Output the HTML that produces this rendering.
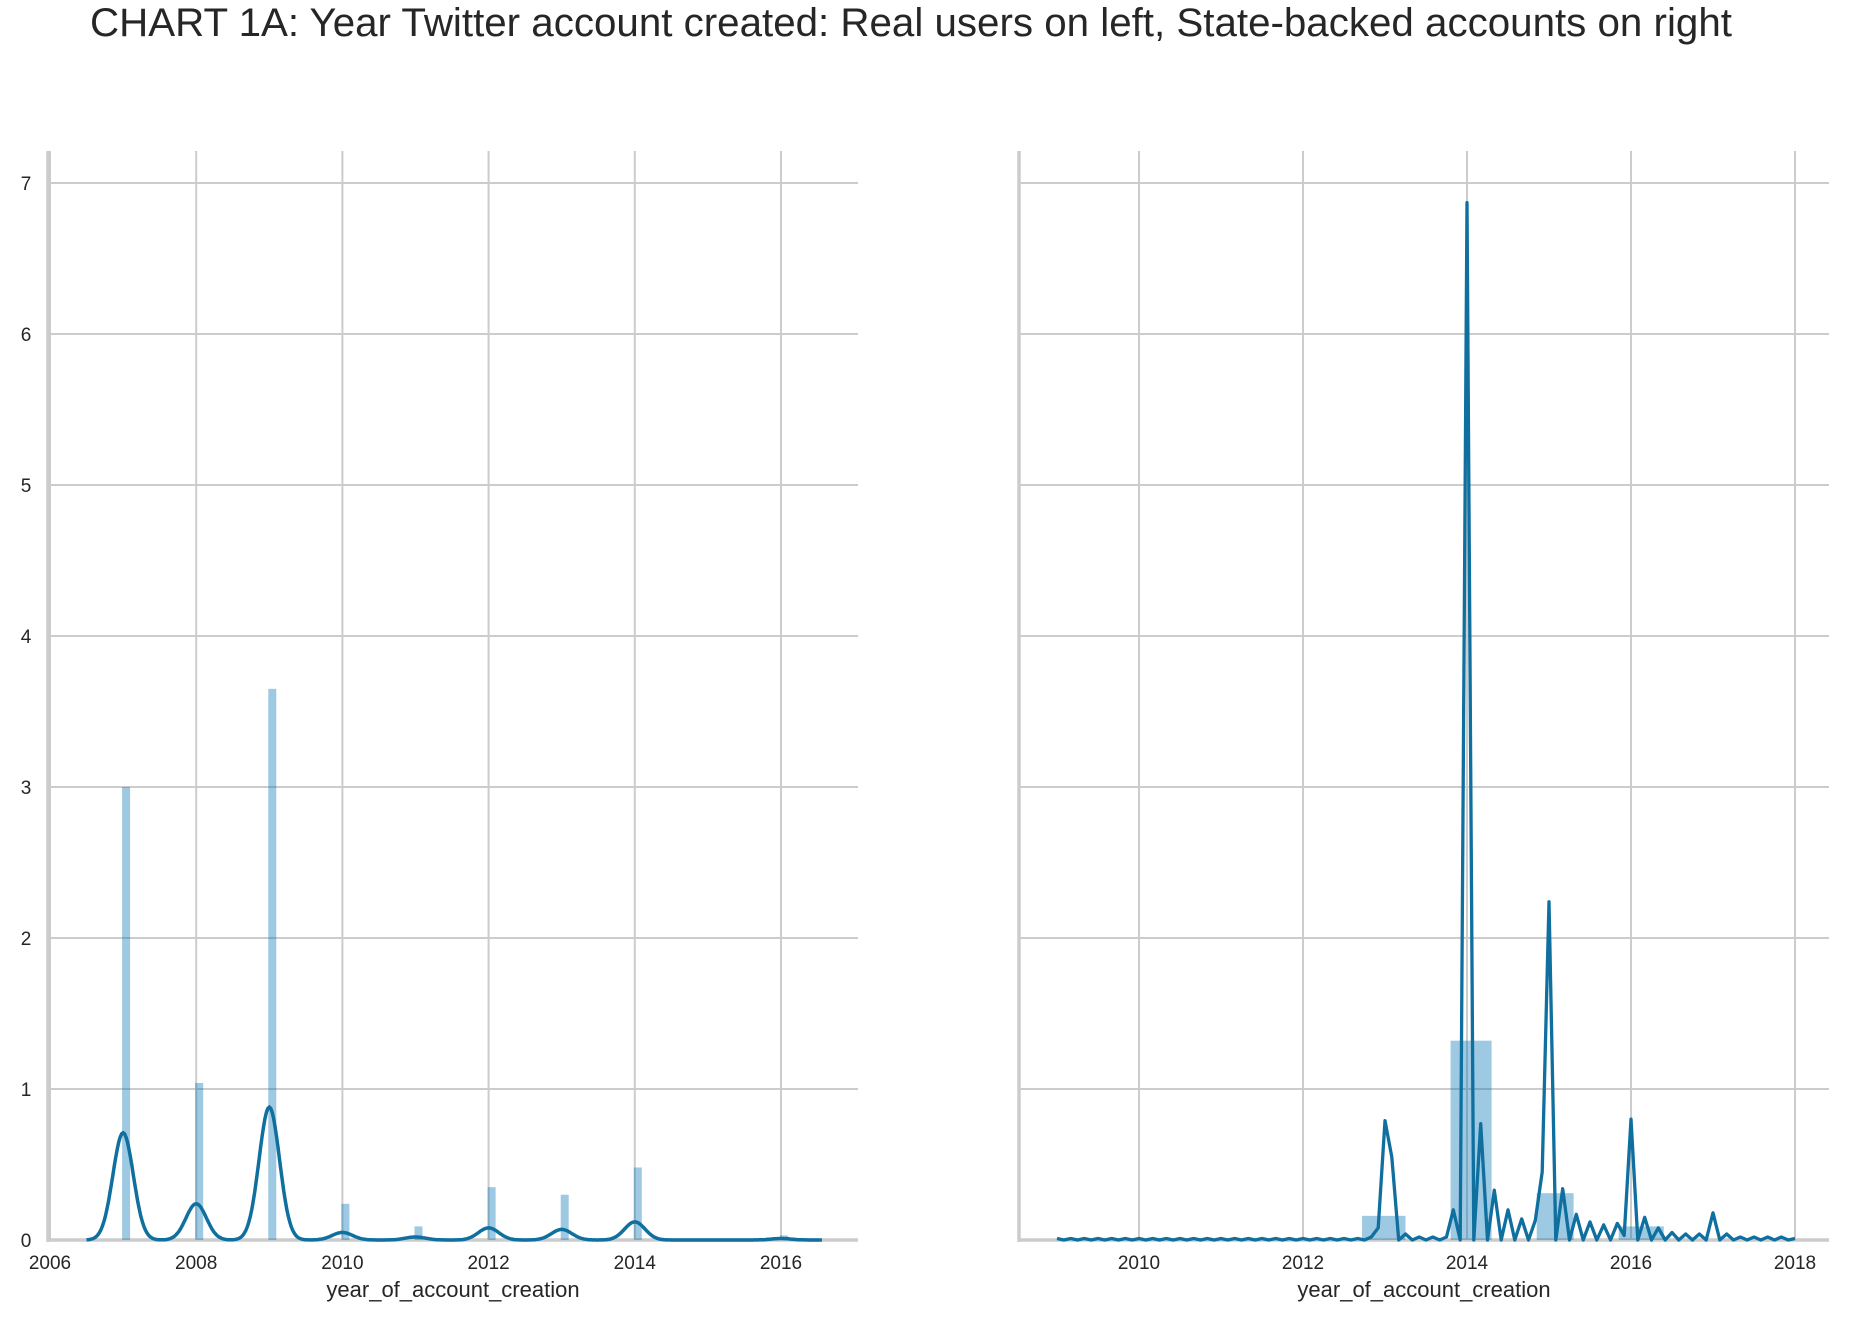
<!DOCTYPE html>
<html><head><meta charset="utf-8"><style>
body{margin:0;background:#fff;}
svg{display:block;font-family:"Liberation Sans",sans-serif;}
</style></head><body>
<svg id="chart" width="1850" height="1321">
<text x="911" y="36" text-anchor="middle" font-size="40.3" fill="#262626">CHART 1A: Year Twitter account created: Real users on left, State-backed accounts on right</text>
<g id="left"></g>
<g id="right"></g>
</svg>
<script>
const yTicks=[0,1,2,3,4,5,6,7];
const leftXTicks=[2006,2008,2010,2012,2014,2016];
const rightXTicks=[2010,2012,2014,2016,2018];
const leftBarYears=[2007,2008,2009,2010,2011,2012,2013,2014,2016];
const leftBarValues=[3.0,1.04,3.65,0.24,0.09,0.35,0.3,0.48,0.03];
const leftKdePeakYears=[2007,2008,2009,2010,2011,2012,2013,2014,2016];
const leftKdePeakValues=[0.71,0.24,0.88,0.05,0.02,0.08,0.07,0.12,0.01];
const rightBarStarts=[2012.72,2013.8,2014.85,2015.85];
const rightBarEnds=[2013.25,2014.3,2015.3,2016.4];
const rightBarValues=[0.16,1.32,0.31,0.09];
const rightLineStart=2009;
const rightLineValues=[
0.01,0,0.01,0,0.01,0,0.01,0,0.01,0,0.01,0,
0.01,0,0.01,0,0.01,0,0.01,0,0.01,0,0.01,0,
0.01,0,0.01,0,0.01,0,0.01,0,0.01,0,0.01,0,
0.01,0,0.01,0,0.01,0,0.01,0,0.01,0,0.02,0.08,
0.79,0.55,0,0.04,0,0.02,0,0.02,0,0.02,0.2,0,
6.87,0,0.77,0,0.33,0,0.2,0,0.14,0,0.13,0.45,
2.24,0,0.34,0,0.17,0,0.12,0,0.1,0,0.11,0.03,
0.8,0,0.15,0,0.08,0,0.05,0,0.04,0,0.04,0,
0.18,0,0.04,0,0.02,0,0.02,0,0.02,0,0.02,0,
0.01];
const NS='http://www.w3.org/2000/svg';
function mk(p,t,a){const e=document.createElementNS(NS,t);for(const k in a)e.setAttribute(k,a[k]);p.appendChild(e);return e;}
const yBase=1240,yUnit=151;
const Y=v=>yBase-v*yUnit;
const LX=y=>50+(y-2006)*73.1;
const RX=y=>1139+(y-2010)*82;
const LC='#0f6f9e',BF='rgba(0,114,178,0.38)',GC='#cccccc';
function frame(g,x0,x1,X,ticks,labels){
  ticks.forEach(t=>{const l=mk(g,'line',{x1:X(t),x2:X(t),y1:151,y2:yBase,stroke:GC,'stroke-width':2});
    
    
    const tx=mk(g,'text',{x:X(t),y:1269,'text-anchor':'middle','font-size':19,fill:'#262626'});tx.textContent=t;
    
    });
  yTicks.forEach(v=>{const l=mk(g,'line',{x1:x0,x2:x1,y1:Y(v),y2:Y(v),stroke:GC,'stroke-width':2});
    
    
    if(labels){const tx=mk(g,'text',{x:26,y:Y(v)+7,'text-anchor':'middle','font-size':19,fill:'#262626'});tx.textContent=v;
      
      }});
  const s1=mk(g,'line',{x1:x0,x2:x0,y1:151,y2:yBase+2,stroke:GC,'stroke-width':3.5});
  
  
  const s2=mk(g,'line',{x1:x0,x2:x1,y1:yBase,y2:yBase,stroke:GC,'stroke-width':3.5});
  
  
  const xl=mk(g,'text',{x:(x0+x1)/2,y:1297,'text-anchor':'middle','font-size':22,fill:'#262626'});xl.textContent='year_of_account_creation';
  
  
}
const L=document.getElementById('left'),R=document.getElementById('right');
frame(L,48,858,LX,leftXTicks,true);
frame(R,1019,1829,RX,rightXTicks,false);
leftBarYears.forEach((yr,i)=>{const b=mk(L,'rect',{x:LX(yr)-1,y:Y(leftBarValues[i]),width:8,height:yBase-Y(leftBarValues[i]),fill:BF});
  
  });
let pts=[];
for(let x=2006.5;x<=2016.56;x+=0.02){let v=0;leftKdePeakYears.forEach((p,i)=>{v+=leftKdePeakValues[i]*Math.exp(-Math.pow((x-p)/0.14,2)/2);});pts.push(LX(x).toFixed(1)+','+Y(v).toFixed(1));}
const lk=mk(L,'polyline',{points:pts.join(' '),fill:'none',stroke:LC,'stroke-width':3.5});


rightBarStarts.forEach((s,i)=>{const b=mk(R,'rect',{x:RX(s),y:Y(rightBarValues[i]),width:RX(rightBarEnds[i])-RX(s),height:yBase-Y(rightBarValues[i]),fill:BF});
  
  });
const rp=rightLineValues.map((v,i)=>RX(rightLineStart+i/12).toFixed(1)+','+Y(v).toFixed(1));
const rk=mk(R,'polyline',{points:rp.join(' '),fill:'none',stroke:LC,'stroke-width':3.3,'stroke-linejoin':'round'});


</script>
</body></html>
